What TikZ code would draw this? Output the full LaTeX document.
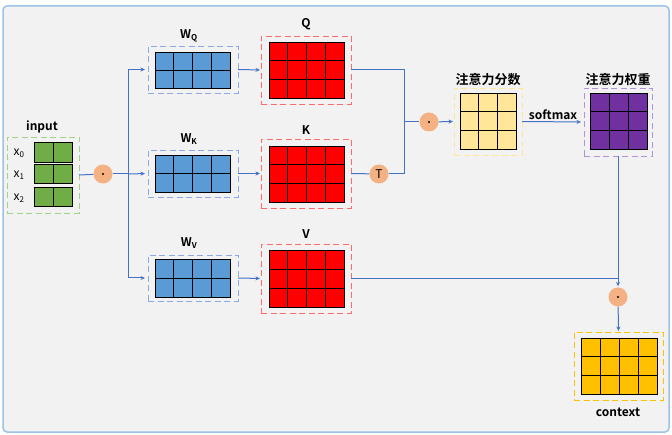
\documentclass[tikz,border=0pt]{standalone}
\usepackage{fontspec}
\setmainfont{Noto Sans CJK SC}[BoldFont={Noto Sans CJK SC Bold}]
\usetikzlibrary{arrows.meta,calc}
\definecolor{lineblue}{HTML}{4472C4}
\definecolor{framebg}{HTML}{F2F2F2}
\definecolor{frameline}{HTML}{9DC3E6}
\definecolor{wblue}{HTML}{5B9BD5}
\definecolor{wdash}{HTML}{8CA8E8}
\definecolor{qred}{HTML}{FF0000}
\definecolor{qdash}{HTML}{FF6A6A}
\definecolor{ggreen}{HTML}{70AD47}
\definecolor{gdash}{HTML}{A5D186}
\definecolor{syellow}{HTML}{FFE699}
\definecolor{sdash}{HTML}{FFE699}
\definecolor{wpurple}{HTML}{7030A0}
\definecolor{pdash}{HTML}{B094DA}
\definecolor{cgold}{HTML}{FFC000}
\definecolor{dotfill}{HTML}{F4B183}
\newcommand\mygrid[3]{%
  \pgfmathtruncatemacro\myc{#2-1}%
  \foreach \i in {1,...,\myc}{\draw[gridln] ($(#1.north west)!\i/#2!(#1.north east)$) -- ($(#1.south west)!\i/#2!(#1.south east)$);}%
  \ifnum#3>1
  \pgfmathtruncatemacro\myr{#3-1}%
  \foreach \i in {1,...,\myr}{\draw[gridln] ($(#1.north west)!\i/#3!(#1.south west)$) -- ($(#1.north east)!\i/#3!(#1.south east)$);}%
  \fi}
\begin{document}
\begin{tikzpicture}[x=1pt,y=-1pt,
  matcell/.style={draw=black, line width=0.9pt, inner sep=0pt, outer sep=0pt},
  gridln/.style={draw=black, line width=0.8pt},
  dbox/.style={dash pattern=on 6pt off 3.5pt, line width=0.9pt, inner sep=0pt, outer sep=0pt},
  conn/.style={draw=lineblue, line width=1pt},
  arr/.style={conn, -{Stealth[length=4.5pt,width=4pt]}},
  opdot/.style={circle, fill=dotfill, minimum size=19pt, inner sep=0pt},
  lbl/.style={font=\fontsize{12}{14}\selectfont\bfseries, inner sep=1pt},
  cjklbl/.style={font=\fontsize{13}{15}\selectfont\bfseries, inner sep=1pt},
  xlbl/.style={font=\fontsize{12}{14}\selectfont, inner sep=1pt}]
\useasboundingbox (0,0) rectangle (672,435);
\fill[white] (0,0) rectangle (672,435);
\draw[fill=framebg, draw=frameline, line width=1.5pt, rounded corners=4pt] (3,6) rectangle (669,432);

% input
\node[dbox, draw=gdash, minimum width=72pt, minimum height=76pt] (inbox) at (43,175) {};
\node[matcell, fill=ggreen, minimum width=38pt, minimum height=20pt] (g0) at (53,152) {};
\node[matcell, fill=ggreen, minimum width=38pt, minimum height=19pt] (g1) at (53,173.5) {};
\node[matcell, fill=ggreen, minimum width=38pt, minimum height=19pt] (g2) at (53,196.5) {};
\mygrid{g0}{2}{1}\mygrid{g1}{2}{1}\mygrid{g2}{2}{1}
\node[lbl] (inlbl) at (42,127) {input};
\node[xlbl] (x0) at (19,153) {x\textsubscript{0}};
\node[xlbl] (x1) at (19,175) {x\textsubscript{1}};
\node[xlbl] (x2) at (19,198) {x\textsubscript{2}};

% W boxes
\node[dbox, draw=wdash, minimum width=90pt, minimum height=47pt] (wqbox) at (193,69.5) {};
\node[matcell, fill=wblue, minimum width=75pt, minimum height=36pt] (wq) at (192.5,70) {};
\mygrid{wq}{4}{2}
\node[dbox, draw=wdash, minimum width=90pt, minimum height=47pt] (wkbox) at (193,173.5) {};
\node[matcell, fill=wblue, minimum width=75pt, minimum height=37pt] (wk) at (192.5,173.5) {};
\mygrid{wk}{4}{2}
\node[dbox, draw=wdash, minimum width=90pt, minimum height=46pt] (wvbox) at (193,278) {};
\node[matcell, fill=wblue, minimum width=75pt, minimum height=38pt] (wv) at (192.5,278.5) {};
\mygrid{wv}{4}{2}
\node[lbl] (wql) at (189,36) {W\textsubscript{Q}};
\node[lbl] (wkl) at (189,139) {W\textsubscript{K}};
\node[lbl] (wvl) at (189,243) {W\textsubscript{V}};

% Q K V
\node[dbox, draw=qdash, minimum width=90pt, minimum height=68pt] (qbox) at (306,70) {};
\node[matcell, fill=qred, minimum width=75pt, minimum height=56pt] (q) at (306.5,70) {};
\mygrid{q}{4}{3}
\node[dbox, draw=qdash, minimum width=90pt, minimum height=69pt] (kbox) at (306,173.5) {};
\node[matcell, fill=qred, minimum width=75pt, minimum height=56pt] (k) at (306.5,174) {};
\mygrid{k}{4}{3}
\node[dbox, draw=qdash, minimum width=90pt, minimum height=69pt] (vbox) at (306,278.5) {};
\node[matcell, fill=qred, minimum width=75pt, minimum height=57pt] (v) at (306.5,278.5) {};
\mygrid{v}{4}{3}
\node[lbl] (ql) at (306,24) {Q};
\node[lbl] (kl) at (306,130) {K};
\node[lbl] (vl) at (306,234) {V};

% score and weight
\node[dbox, draw=sdash, minimum width=68pt, minimum height=67pt] (scorebox) at (488,121.5) {};
\node[matcell, fill=syellow, minimum width=56pt, minimum height=56pt] (score) at (488,121) {};
\mygrid{score}{3}{3}
\node[cjklbl] (scorel) at (488,80) {注意力分数};
\node[dbox, draw=pdash, minimum width=68pt, minimum height=68pt] (weightbox) at (618,122) {};
\node[matcell, fill=wpurple, minimum width=57pt, minimum height=56pt] (weight) at (618.5,121) {};
\mygrid{weight}{3}{3}
\node[cjklbl] (weightl) at (618,80) {注意力权重};

% context
\node[dbox, draw=cgold, minimum width=89pt, minimum height=68pt] (ctxbox) at (618.5,366) {};
\node[matcell, fill=cgold, minimum width=76pt, minimum height=56pt] (ctx) at (619,366) {};
\mygrid{ctx}{4}{3}
\node[lbl] (ctxl) at (618,412) {context};

% operators
\node[opdot] (dot1) at (103,174) {};
\fill (dot1) circle (1.2pt);
\node[opdot, font=\fontsize{12}{14}\selectfont] (tnode) at (379,174) {T};
\node[opdot] (dot2) at (429,122) {};
\fill (dot2) circle (1.2pt);
\node[opdot] (dot3) at (618,297) {};
\fill (dot3) circle (1.2pt);
\coordinate (split) at (128,174);
\coordinate (jn) at (404,122);

% connectors
\draw[conn] (inbox.east) -- (dot1);
\draw[conn] (dot1) -- (split);
\draw[arr, shorten >=3pt] (split) |- (wqbox.west);
\draw[arr, shorten >=3pt] (split) -- (wkbox.west);
\draw[arr, shorten >=3pt] (split) |- (wvbox.west);
\draw[arr, shorten >=1pt] (wqbox.east) -- (qbox.west);
\draw[arr, shorten >=1pt] (wkbox.east) -- (kbox.west);
\draw[arr, shorten >=1pt] (wvbox.east) -- (vbox.west);
\draw[conn] (qbox.east) -| (jn);
\draw[conn] (kbox.east) -- (tnode);
\draw[conn] (tnode) -| (jn);
\draw[conn] (jn) -- (dot2);
\draw[arr, shorten >=1pt] (dot2) -- (scorebox.west);
\draw[arr, shorten >=3pt] (scorebox.east) -- node[lbl, above=1pt] (smx) {softmax} (weightbox.west);
\draw[arr, shorten >=1pt] (weightbox.south) -- (dot3);
\draw[conn] (vbox.east) -- (vbox.east -| dot3);
\draw[arr, shorten >=1pt] (dot3) -- (ctxbox.north);
\end{tikzpicture}
\end{document}
